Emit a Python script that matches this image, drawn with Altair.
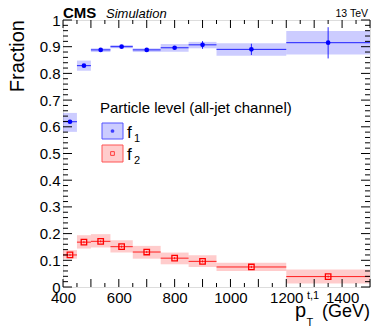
import altair as alt
import pandas as pd

# ---------------- data ----------------
bin_lo = [400, 450, 500, 570, 650, 750, 850, 950, 1200]
bin_hi = [450, 500, 570, 650, 750, 850, 950, 1200, 1500]
bin_mid = [425, 475, 535, 610, 700, 800, 900, 1075, 1350]

f1 = [0.619, 0.829, 0.888, 0.900, 0.888, 0.896, 0.907, 0.890, 0.915]
f1_band_lo = [0.581, 0.810, 0.880, 0.894, 0.880, 0.881, 0.894, 0.866, 0.871]
f1_band_hi = [0.652, 0.848, 0.894, 0.906, 0.894, 0.910, 0.918, 0.913, 0.959]
f1_err_lo = [0.612, 0.823, 0.884, 0.896, 0.884, 0.891, 0.892, 0.869, 0.856]
f1_err_hi = [0.626, 0.835, 0.892, 0.904, 0.892, 0.901, 0.921, 0.911, 0.973]

f2 = [0.120, 0.168, 0.171, 0.151, 0.131, 0.108, 0.096, 0.075, 0.039]
f2_band_lo = [0.106, 0.144, 0.148, 0.129, 0.106, 0.085, 0.075, 0.060, 0.013]
f2_band_hi = [0.138, 0.194, 0.198, 0.175, 0.154, 0.129, 0.119, 0.091, 0.066]
f2_err_lo = [0.116, 0.164, 0.167, 0.147, 0.127, 0.104, 0.092, 0.071, 0.035]
f2_err_hi = [0.124, 0.172, 0.175, 0.155, 0.135, 0.112, 0.100, 0.079, 0.043]

x_labels = [400, 600, 800, 1000, 1200, 1400]
y_labels = [0, 0.1, 0.2, 0.3, 0.4, 0.5, 0.6, 0.7, 0.8, 0.9, 1.0]
x_ticks_100 = list(range(400, 1501, 100))
x_ticks_50 = list(range(450, 1500, 100))
y_ticks_major = [round(v * 0.1, 2) for v in range(0, 11)]
y_ticks_minor = [round(v * 0.02, 2) for v in range(0, 51) if v % 5 != 0]

W, H = 307, 267
FONT = "Liberation Sans"

df1 = pd.DataFrame(dict(lo=bin_lo, hi=bin_hi, mid=bin_mid, v=f1,
                        blo=f1_band_lo, bhi=f1_band_hi, elo=f1_err_lo, ehi=f1_err_hi))
df2 = pd.DataFrame(dict(lo=bin_lo, hi=bin_hi, mid=bin_mid, v=f2,
                        blo=f2_band_lo, bhi=f2_band_hi, elo=f2_err_lo, ehi=f2_err_hi))

xs = alt.Scale(domain=[400, 1500], nice=False, zero=False)
ys = alt.Scale(domain=[0, 1], nice=False, zero=False)
xax = alt.Axis(title=None, values=x_labels, ticks=False, grid=False, domain=False,
               labelFont=FONT, labelFontSize=15, labelColor="black", labelPadding=3,
               format="d", labelFlush=False)
yax = alt.Axis(title=None, values=y_labels, ticks=False, grid=False, domain=False,
               labelFont=FONT, labelFontSize=15, labelColor="black", labelPadding=3,
               labelExpr="datum.value == 0 ? '0' : (datum.value == 1 ? '1' : format(datum.value, '.1f'))")


def series(df, color, shape, filled, size):
    base = alt.Chart(df)
    band = base.mark_rect(color=color, opacity=0.2).encode(
        x=alt.X("lo:Q", scale=xs, axis=xax), x2="hi:Q",
        y=alt.Y("blo:Q", scale=ys, axis=yax), y2="bhi:Q")
    hline = base.mark_rule(color=color, strokeWidth=1, opacity=0.85).encode(
        x=alt.X("lo:Q", scale=xs, axis=xax), x2="hi:Q",
        y=alt.Y("v:Q", scale=ys, axis=yax))
    vline = base.mark_rule(color=color, strokeWidth=1, opacity=0.85).encode(
        x=alt.X("mid:Q", scale=xs, axis=xax),
        y=alt.Y("elo:Q", scale=ys, axis=yax), y2="ehi:Q")
    if filled:
        pts = base.mark_point(shape=shape, filled=True, color=color, size=size, opacity=1)
    else:
        pts = base.mark_point(shape=shape, filled=False, color=color, size=size,
                              strokeWidth=1.3, opacity=1)
    pts = pts.encode(x=alt.X("mid:Q", scale=xs, axis=xax),
                     y=alt.Y("v:Q", scale=ys, axis=yax))
    return [band, hline, vline, pts]


layers = []
layers += series(df2, "#ff0000", "square", False, 30)
layers += series(df1, "#0000ff", "circle", True, 22)


# ---------------- inward ticks ----------------
def xticks(vals, length):
    d = pd.DataFrame({"t": vals})
    bot = alt.Chart(d).mark_rule(color="black", strokeWidth=1).encode(
        x=alt.X("t:Q", scale=xs, axis=xax), y=alt.value(H), y2=alt.value(H - length))
    top = alt.Chart(d).mark_rule(color="black", strokeWidth=1).encode(
        x=alt.X("t:Q", scale=xs, axis=xax), y=alt.value(0), y2=alt.value(length))
    return [bot, top]


def yticks(vals, length):
    d = pd.DataFrame({"t": vals})
    left = alt.Chart(d).mark_rule(color="black", strokeWidth=1).encode(
        y=alt.Y("t:Q", scale=ys, axis=yax), x=alt.value(0), x2=alt.value(length))
    right = alt.Chart(d).mark_rule(color="black", strokeWidth=1).encode(
        y=alt.Y("t:Q", scale=ys, axis=yax), x=alt.value(W), x2=alt.value(W - length))
    return [left, right]


layers += xticks(x_ticks_100, 8)
layers += xticks(x_ticks_50, 4)
layers += yticks(y_ticks_major, 9)
layers += yticks(y_ticks_minor, 5)

one = pd.DataFrame({"a": [0]})


def text(s, x, y, size, align="left", weight="normal", style="normal", angle=0, baseline="alphabetic"):
    return alt.Chart(one).mark_text(text=s, font=FONT, fontSize=size, align=align,
                                    baseline=baseline, fontWeight=weight, fontStyle=style,
                                    angle=angle, color="black").encode(
        x=alt.value(x), y=alt.value(y))


# header
layers.append(text("CMS", 0, -2, 15, weight="bold"))
layers.append(text("Simulation", 43, -2, 13, style="italic"))
layers.append(text("13 TeV", W - 2, -3, 10.5, align="right"))
# y title
layers.append(text("Fraction", -39, 0, 20, align="right", angle=270, baseline="alphabetic"))
# x title
layers.append(text("p", 232, 297, 20))
layers.append(text("t,1", 244, 279, 11))
layers.append(text("T", 243.5, 306, 11))
layers.append(text("(GeV)", 259, 297, 18))

# legend
layers.append(text("Particle level (all-jet channel)", 37, 93, 15))
layers.append(alt.Chart(one).mark_rect(fill="#ccccff", stroke="#5555ff", strokeWidth=1).encode(
    x=alt.value(39), x2=alt.value(60), y=alt.value(103), y2=alt.value(119)))
layers.append(alt.Chart(one).mark_point(shape="circle", filled=True, color="#0000ff", size=14).encode(
    x=alt.value(49.5), y=alt.value(111)))
layers.append(alt.Chart(one).mark_rect(fill="#ffcccc", stroke="#ff5555", strokeWidth=1).encode(
    x=alt.value(39), x2=alt.value(60), y=alt.value(125), y2=alt.value(142)))
layers.append(alt.Chart(one).mark_point(shape="square", filled=False, color="#ff0000", size=14,
                                        strokeWidth=1).encode(
    x=alt.value(49.5), y=alt.value(133.5)))
layers.append(text("f", 64, 118, 17))
layers.append(text("1", 71, 122, 11))
layers.append(text("f", 64, 140, 17))
layers.append(text("2", 71, 144, 11))

chart = alt.layer(*layers).properties(
    width=W, height=H,
    autosize=alt.AutoSizeParams(type="none"),
    padding={"left": 55, "top": 12, "right": 12, "bottom": 41},
).configure_view(stroke="black", strokeWidth=1).configure(background="white")

chart.save("out.html", embed_options={"renderer": "svg", "actions": False})
